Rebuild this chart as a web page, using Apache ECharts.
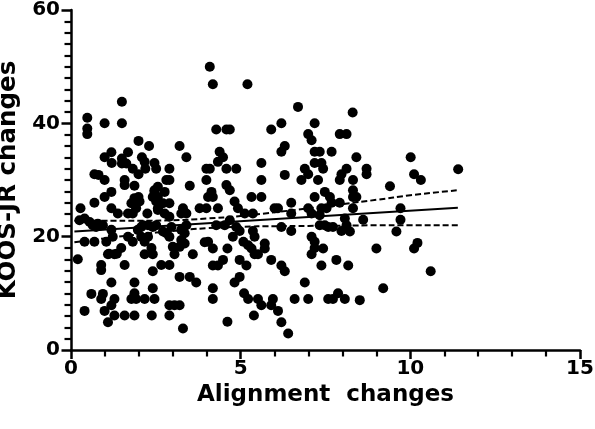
<!DOCTYPE html>
<html>
<head>
<meta charset="utf-8">
<script src="https://cdn.jsdelivr.net/npm/echarts@6/dist/echarts.min.js"></script>
<style>
  html, body { margin: 0; padding: 0; background: #fff; }
  #main { width: 595px; height: 429px; }
</style>
</head>
<body>
<div id="main"></div>
<script>
// observed patients: [alignment change, KOOS-JR change]
const points = [
  [1.5,43.8],[0.48,41.0],[0.48,39.1],[0.48,38.1],[0.99,40.0],[1.5,40.0],
  [1.99,36.9],[2.3,36.0],[3.2,36.0],[1.19,34.9],[1.68,34.9],[0.99,34.0],
  [1.2,33.0],[1.5,33.8],[1.5,32.9],[1.63,32.9],[2.09,34.0],[2.17,33.2],
  [2.46,33.0],[2.51,32.0],[1.82,32.0],[2.19,32.0],[1.99,31.0],[3.4,34.0],
  [2.9,32.0],[0.69,31.0],[0.81,30.9],[0.99,30.0],[1.58,30.0],[1.58,29.1],
  [2.81,30.0],[2.9,30.0],[1.87,29.0],[3.5,29.0],[3.99,30.0],[3.99,32.0],
  [1.19,27.9],[0.99,27.0],[2.46,27.9],[2.76,27.9],[1.99,27.0],[2.41,27.0],
  [0.69,26.0],[2.51,26.2],[2.02,26.2],[4.04,27.0],[0.28,25.0],[1.19,25.0],
  [1.38,24.1],[1.82,24.1],[1.92,25.0],[2.25,24.1],[2.56,25.0],[2.76,24.1],
  [3.3,25.0],[3.79,25.0],[3.99,25.0],[0.4,23.2],[0.55,22.6],[0.79,22.3],[0.94,22.0],
  [0.25,22.9],[0.64,22.0],[0.84,21.9],[0.4,19.1],[0.69,19.1],[1.04,19.1],
  [0.2,16.0],[1.12,17.0],[1.35,17.0],[0.89,15.0],[0.89,14.1],[1.58,15.0],
  [1.68,24.1],[1.78,25.9],[1.87,26.8],[2.12,22.0],[2.27,22.0],[2.41,21.7],
  [2.51,22.0],[1.97,21.2],[2.07,20.0],[2.27,20.0],[2.56,24.7],[2.71,25.9],
  [2.56,27.0],[2.46,28.2],[2.56,28.8],[2.9,25.9],[2.9,23.5],[3.25,24.1],
  [3.4,24.1],[3.4,22.0],[3.35,20.6],[3.25,19.4],[3.35,18.8],[3.0,18.2],
  [3.2,18.2],[2.71,20.9],[2.81,20.6],[2.9,20.0],
  [0.74,21.7],[1.19,21.2],[2.07,21.7],[2.96,21.7],[3.25,21.2],
  [1.23,20.0],[1.68,20.0],[1.82,19.1],[2.17,19.1],[1.48,18.0],[1.09,16.9],
  [1.28,16.9],[2.17,16.9],[2.41,16.9],[2.37,18.0],[3.05,16.9],[3.59,16.9],[3.94,19.0],
  [2.41,13.9],[2.66,15.0],[2.9,15.0],[3.2,12.9],[3.5,12.9],[3.69,11.9],
  [1.19,11.9],[1.87,11.9],[0.6,9.9],[0.94,9.9],[2.41,10.9],[1.87,10.0],
  [1.78,9.0],[1.92,9.0],[2.17,9.0],[2.46,9.0],[0.89,9.0],[1.28,9.0],
  [1.19,7.9],[0.4,6.9],[0.99,6.9],[1.28,6.1],[1.58,6.1],[1.87,6.1],
  [1.09,4.9],[2.38,6.1],[2.9,7.9],[3.05,7.9],[3.2,7.9],[2.9,6.1],[3.3,3.8],
  [4.09,50.0],[4.18,46.9],[5.2,46.9],[6.69,42.9],[8.3,41.9],[4.28,38.9],
  [4.58,38.9],[4.68,38.9],[5.9,38.9],[6.2,40.0],[7.18,40.0],[6.99,38.1],
  [7.09,37.0],[7.92,38.1],[8.12,38.1],[4.38,35.0],[4.48,34.0],[4.33,33.2],
  [4.09,32.0],[4.58,32.0],[4.87,32.0],[6.3,36.0],[6.2,35.0],[7.18,35.0],
  [7.33,35.0],[7.68,35.0],[5.61,33.0],[5.61,30.0],[6.3,30.9],[6.89,32.0],
  [7.18,33.0],[7.38,33.0],[6.79,30.0],[6.99,31.0],[7.28,30.0],[7.43,32.0],
  [7.97,31.0],[8.12,32.0],[7.92,30.0],[4.14,27.9],[4.18,27.0],[4.58,29.1],
  [4.68,28.2],[5.32,27.0],[5.61,27.0],[4.82,26.2],[4.92,25.0],[4.33,25.0],
  [5.12,24.1],[5.36,24.1],[6.0,25.0],[6.1,25.0],[6.49,26.0],[6.49,24.1],
  [7.18,27.0],[7.48,27.9],[7.63,27.0],[7.68,26.0],[7.92,26.0],[6.99,25.0],
  [7.09,24.1],[7.38,25.0],[7.53,25.0],[7.33,23.8],[4.68,22.9],[4.28,22.0],
  [4.53,22.0],[7.33,22.0],[7.48,22.0],[8.07,23.2],
  [6.2,21.7],[6.49,21.0],[7.58,21.7],[7.72,21.7],[7.97,21.0],[4.87,21.7],
  [4.97,21.0],[5.36,21.0],[5.41,20.0],[4.77,20.0],[4.04,19.1],[4.18,17.9],
  [4.61,17.9],[5.08,19.1],[5.22,18.5],[5.32,17.9],[5.41,16.9],[5.51,16.9],
  [5.71,18.8],[5.71,17.9],[7.09,20.0],[7.18,19.1],[7.09,16.9],[7.18,18.0],
  [7.43,17.9],[4.18,14.9],[4.33,14.9],[4.48,15.9],[4.97,15.9],[5.17,14.9],
  [5.9,15.9],[6.2,14.9],[6.3,13.9],[7.38,14.9],[7.82,15.9],[8.17,14.9],
  [4.97,12.9],[4.82,11.9],[6.89,11.9],[4.18,10.9],[4.18,9.0],[5.1,10.0],
  [5.22,9.0],[5.51,9.0],[5.61,7.9],[5.95,9.0],[5.9,7.9],[6.1,6.9],
  [6.59,9.0],[6.99,9.0],[7.58,9.0],[7.72,9.0],[7.87,10.0],[8.07,9.0],
  [4.61,5.0],[5.39,6.1],[6.2,4.9],[6.4,2.9],
  [8.41,34.0],[8.71,32.0],[8.71,31.0],[8.31,30.0],[8.31,28.2],[8.31,27.0],
  [8.41,27.0],[8.31,25.0],[8.12,22.0],[8.22,20.9],[8.61,23.0],[10.01,34.0],
  [10.11,31.0],[10.31,30.0],[11.41,31.9],[9.4,28.9],[9.71,25.0],[9.71,23.0],
  [9.59,20.9],[9.0,17.9],[10.21,18.9],[10.11,17.9],[10.6,13.9],[9.2,10.9],[8.51,8.8]
];

// regression line and 95% band
const fitX = [0.1, 11.4];
const fitY = [20.9, 25.1];
const bandX = [0.1, 1, 2, 3, 4, 5, 6, 7, 8, 9, 10, 11.4];
const bandUpper = [22.8, 22.8, 22.8, 22.9, 23.2, 23.65, 24.3, 25.0, 25.75, 26.5, 27.3, 28.2];
const bandLower = [19.0, 19.7, 20.4, 21.0, 21.5, 21.75, 21.85, 21.9, 21.95, 22.0, 22.0, 22.0];

const xTicks = [0, 15, 5];   // min, max, step
const yTicks = [0, 60, 20];

const zip = (a, b) => a.map((v, i) => [v, b[i]]);
const font = 'DejaVu Sans';
const black = '#000';

const chart = echarts.init(document.getElementById('main'));
const dashed = { color: black, width: 2, type: [6, 3] };

chart.setOption({
  animation: false,
  backgroundColor: '#fff',
  grid: { left: 71, right: 15, top: 10, bottom: 79, outerBoundsMode: 'none' },
  xAxis: {
    type: 'value',
    min: xTicks[0], max: xTicks[1], interval: xTicks[2],
    name: 'Alignment  changes',
    nameLocation: 'middle',
    nameGap: 24,
    nameTextStyle: { color: black, fontFamily: font, fontWeight: 'bold', fontSize: 23 },
    axisLabel: { color: black, fontFamily: font, fontWeight: 'bold', fontSize: 20, margin: 9 },
    axisLine: { show: true, lineStyle: { color: black, width: 2.5 } },
    axisTick: { show: true, length: 9, lineStyle: { color: black, width: 2.5 } },
    minorTick: { show: true, splitNumber: 5, length: 6.5, lineStyle: { color: black, width: 2.2 } },
    splitLine: { show: false }
  },
  yAxis: {
    type: 'value',
    min: yTicks[0], max: yTicks[1], interval: yTicks[2],
    name: 'KOOS-JR changes',
    nameLocation: 'middle',
    nameGap: 40,
    nameTextStyle: { color: black, fontFamily: font, fontWeight: 'bold', fontSize: 24.5 },
    axisLabel: { color: black, fontFamily: font, fontWeight: 'bold', fontSize: 20, margin: 11 },
    axisLine: { show: true, lineStyle: { color: black, width: 2.5 } },
    axisTick: { show: true, length: 9.5, lineStyle: { color: black, width: 2.5 } },
    minorTick: { show: true, splitNumber: 10, length: 6.5, lineStyle: { color: black, width: 2.2 } },
    splitLine: { show: false }
  },
  series: [
    {
      type: 'scatter',
      data: points,
      symbol: 'circle',
      symbolSize: 10,
      itemStyle: { color: black, opacity: 1 }
    },
    {
      type: 'line',
      data: zip(fitX, fitY),
      symbol: 'none',
      lineStyle: { color: black, width: 2 },
      z: 3
    },
    {
      type: 'line',
      data: zip(bandX, bandUpper),
      symbol: 'none',
      smooth: true,
      lineStyle: dashed,
      z: 3
    },
    {
      type: 'line',
      data: zip(bandX, bandLower),
      symbol: 'none',
      smooth: true,
      lineStyle: dashed,
      z: 3
    }
  ]
});
</script>
</body>
</html>
